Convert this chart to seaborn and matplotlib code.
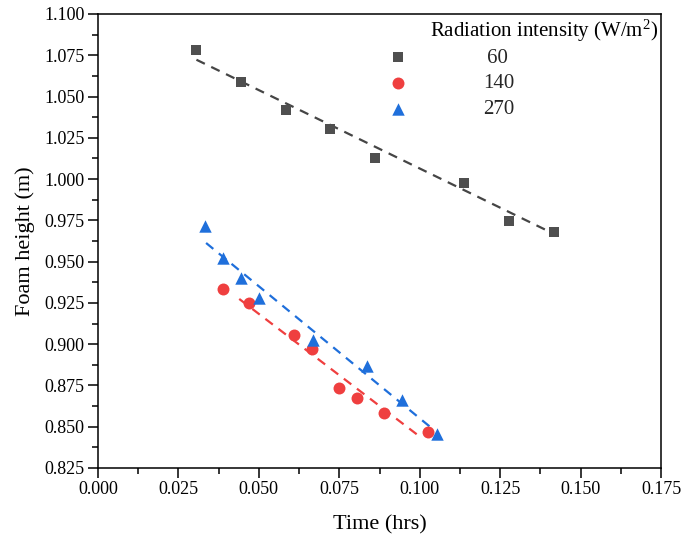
import numpy as np
import pandas as pd
import matplotlib
matplotlib.use("Agg")
import matplotlib.pyplot as plt
from matplotlib.ticker import MultipleLocator, AutoMinorLocator, FormatStrFormatter
import seaborn as sns

# ---- data ----
time_60 = [0.0306, 0.0444, 0.0583, 0.0722, 0.0861, 0.1137, 0.1277, 0.1417]
height_60 = [1.0780, 1.0588, 1.0416, 1.0305, 1.0130, 0.9977, 0.9749, 0.9677]
time_140 = [0.0388, 0.0470, 0.0610, 0.0666, 0.0750, 0.0805, 0.0889, 0.1025]
height_140 = [0.9336, 0.9250, 0.9058, 0.8968, 0.8735, 0.8672, 0.8583, 0.8466]
time_270 = [0.0333, 0.0389, 0.0444, 0.0500, 0.0667, 0.0835, 0.0944, 0.1055]
height_270 = [0.9718, 0.9520, 0.9401, 0.9280, 0.9027, 0.8870, 0.8664, 0.8458]

fit_time_60 = [0.0306, 0.1410]
fit_height_60 = [1.0723, 0.9675]
fit_time_140 = [0.0439, 0.0999]
fit_height_140 = [0.9274, 0.8442]
fit_time_270 = [0.0336, 0.1040]
fit_height_270 = [0.9613, 0.8487]

intensity_labels = ["60", "140", "270"]
legend_title = "Radiation intensity (W/m$^{2}$)"
x_label = "Time (hrs)"
y_label = "Foam height (m)"

# ---- style ----
sns.set_theme(style="ticks")
plt.rcParams["font.family"] = ["Liberation Serif", "DejaVu Serif"]
plt.rcParams["mathtext.fontset"] = "custom"
plt.rcParams["mathtext.rm"] = "Liberation Serif"
plt.rcParams["mathtext.it"] = "Liberation Serif:italic"
plt.rcParams["mathtext.bf"] = "Liberation Serif:bold"

colors = ["#4f4f4f", "#ef3f3f", "#1f6fdb"]
line_colors = ["#454545", "#ef3f3f", "#1f6fdb"]
markers = ["s", "o", "^"]
sizes = [62, 74, 80]

fig = plt.figure(figsize=(6.84, 5.41), dpi=100)
ax = fig.add_axes([98 / 684, 1 - 468 / 541, (661 - 98) / 684, (468 - 14) / 541])

series = [
    (time_60, height_60, fit_time_60, fit_height_60),
    (time_140, height_140, fit_time_140, fit_height_140),
    (time_270, height_270, fit_time_270, fit_height_270),
]

for i, (tx, hy, ftx, fhy) in enumerate(series):
    fit_df = pd.DataFrame({"t": ftx, "h": fhy})
    sns.lineplot(data=fit_df, x="t", y="h", ax=ax, color=line_colors[i],
                 linewidth=1.6, linestyle=(0, (4.2, 3.2)), legend=False,
                 label="_nolegend_", zorder=2)
for i, (tx, hy, ftx, fhy) in enumerate(series):
    df = pd.DataFrame({"t": tx, "h": hy})
    lab = intensity_labels[i]
    if len(lab) == 2:
        lab = "\u2009" + lab
    sns.scatterplot(data=df, x="t", y="h", ax=ax, color=colors[i],
                    marker=markers[i], s=sizes[i], linewidth=0,
                    label=lab, zorder=3)

ax.set_xlim(0.0, 0.175)
ax.set_ylim(0.825, 1.100)
ax.xaxis.set_major_locator(MultipleLocator(0.025))
ax.yaxis.set_major_locator(MultipleLocator(0.025))
ax.xaxis.set_minor_locator(AutoMinorLocator(2))
ax.yaxis.set_minor_locator(AutoMinorLocator(2))
ax.xaxis.set_major_formatter(FormatStrFormatter("%.3f"))
ax.yaxis.set_major_formatter(FormatStrFormatter("%.3f"))

ax.tick_params(which="major", direction="out", length=7, width=1.1,
               labelsize=13, pad=2.5, color="black", labelcolor="black")
ax.tick_params(which="minor", direction="out", length=4, width=1.1, color="black")
ax.tick_params(top=False, right=False, which="both")
for sp in ax.spines.values():
    sp.set_linewidth(1.1)
    sp.set_color("black")
    sp.set_visible(True)

ax.set_xlabel(x_label, fontsize=16, labelpad=12, color="black")
ax.set_ylabel(y_label, fontsize=16, labelpad=7, color="black")

handles, labels = ax.get_legend_handles_labels()
leg = ax.legend(handles, labels, loc="upper left",
                bbox_to_anchor=(377 / 684, 1 - 48 / 541),
                bbox_transform=fig.transFigure, frameon=False, fontsize=15,
                handlelength=2.0, handletextpad=3.1, labelspacing=0.3,
                borderpad=0, borderaxespad=0)
fig.text(544 / 684, 1 - 31 / 541, legend_title, ha="center", va="center",
         fontsize=15, color="black")

fig.savefig("out.png", dpi=100)
